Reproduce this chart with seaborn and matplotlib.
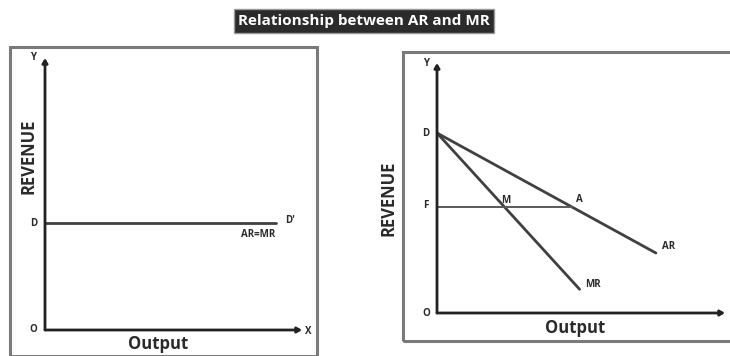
import matplotlib
matplotlib.use("Agg")
import matplotlib.pyplot as plt
from matplotlib.patches import Rectangle
import seaborn as sns
import pandas as pd

# ---- data (economic units on each diagram) ----
# Perfect competition: AR = MR is a flat line at price level D
flat_x = [0.0, 9.0]
flat_y = [3.93, 3.93]

# Imperfect competition: AR and MR fall from the same intercept D,
# MR falling twice as steeply as AR
ar_x = [0.0, 7.6]
ar_y = [7.2, 2.4]
mr_x = [0.0, 4.95]
mr_y = [7.2, 0.95]
# horizontal guide F -> A at revenue level F
f_x = [0.0, 4.7]
f_y = [4.23, 4.23]
m_point = (2.35, 4.23)
a_point = (4.7, 4.23)

title = "Relationship between AR and MR"
y_label = "REVENUE"
x_label = "Output"

sns.set_theme(style="white")
plt.rcParams["font.family"] = ["Open Sans", "DejaVu Sans"]

W, H = 730, 356
fig = plt.figure(figsize=(W / 100, H / 100), dpi=100)
fig.patch.set_facecolor("white")


def fx(px):
    return px / W


def fy(py):
    return 1 - py / H


line_col = "#404040"
axis_col = "#222222"
box_col = "#7a7a7a"

# panel frames
fig.patches.append(Rectangle((fx(10), fy(356)), fx(317) - fx(10), fy(47) - fy(356),
                             transform=fig.transFigure, fill=False,
                             edgecolor=box_col, linewidth=2.2))
fig.patches.append(Rectangle((fx(403), fy(341)), fx(740) - fx(403), fy(52) - fy(341),
                             transform=fig.transFigure, fill=False,
                             edgecolor=box_col, linewidth=2.2))

# title banner
fig.text(fx(364), fy(21), title, ha="center", va="center", color="white",
         fontsize=11, fontweight="bold",
         bbox=dict(boxstyle="square,pad=0.3", facecolor="#2b2b2b",
                   edgecolor="#9a9a9a", linewidth=1))


def make_axes(x0, y0, x1, y1):
    ax = fig.add_axes([fx(x0), fy(y0), fx(x1) - fx(x0), fy(y1) - fy(y0)])
    ax.set_xlim(0, 10)
    ax.set_ylim(0, 10)
    ax.axis("off")
    arrow = dict(arrowstyle="-|>,head_length=0.22,head_width=0.13",
                 color=axis_col, lw=2.0, shrinkA=0, shrinkB=0)
    ax.annotate("", xy=(0, 10), xytext=(0, 0), arrowprops=arrow)
    ax.annotate("", xy=(10, 0), xytext=(0, 0), arrowprops=arrow)
    return ax


small = dict(fontsize=7, fontweight="bold", color="#2a2a2a", clip_on=False)

# ---- left diagram ----
axl = make_axes(45, 330, 302, 58)
sns.lineplot(x=flat_x, y=flat_y, ax=axl, color=line_col, linewidth=2.0,
             estimator=None, sort=False)
axl.text(-0.45, 10.0, "Y", ha="center", va="center", **small)
axl.text(-0.45, 0.0, "O", ha="center", va="center", **small)
axl.text(-0.45, flat_y[0], "D", ha="center", va="center", **small)
axl.text(flat_x[1] + 0.35, flat_y[0] + 0.1, "D'", ha="left", va="center", **small)
axl.text(flat_x[1] - 0.05, flat_y[0] - 0.42, "AR=MR", ha="right", va="center", **small)
axl.text(10.25, -0.05, "X", ha="center", va="center", **small)
axl.text(-0.65, 6.4, y_label, rotation=90, ha="center", va="center",
         fontsize=12, fontweight="bold", color="#2a2a2a", clip_on=False)
axl.text(4.4, -0.5, x_label, ha="center", va="center",
         fontsize=12, fontweight="bold", color="#2a2a2a", clip_on=False)

# ---- right diagram ----
axr = make_axes(437, 313, 725, 63)
curves = pd.DataFrame({
    "output": ar_x + mr_x + f_x,
    "revenue": ar_y + mr_y + f_y,
    "curve": ["AR"] * 2 + ["MR"] * 2 + ["F"] * 2,
})
sns.lineplot(data=curves[curves.curve != "F"], x="output", y="revenue",
             units="curve", estimator=None, sort=False, ax=axr,
             color=line_col, linewidth=2.0)
sns.lineplot(data=curves[curves.curve == "F"], x="output", y="revenue",
             estimator=None, sort=False, ax=axr, color="#5a5a5a", linewidth=1.4)
axr.text(-0.38, 10.0, "Y", ha="center", va="center", **small)
axr.text(-0.38, 0.0, "O", ha="center", va="center", **small)
axr.text(-0.38, ar_y[0], "D", ha="center", va="center", **small)
axr.text(-0.38, f_y[0] + 0.05, "F", ha="center", va="center", **small)
axr.text(m_point[0] + 0.05, m_point[1] + 0.25, "M", ha="center", va="center", **small)
axr.text(a_point[0] + 0.25, a_point[1] + 0.3, "A", ha="center", va="center", **small)
axr.text(ar_x[1] + 0.2, ar_y[1] + 0.25, "AR", ha="left", va="center", **small)
axr.text(mr_x[1] + 0.2, mr_y[1] + 0.2, "MR", ha="left", va="center", **small)
axr.text(-1.7, 4.6, y_label, rotation=90, ha="center", va="center",
         fontsize=12, fontweight="bold", color="#2a2a2a", clip_on=False)
axr.text(4.8, -0.6, x_label, ha="center", va="center",
         fontsize=12, fontweight="bold", color="#2a2a2a", clip_on=False)

fig.savefig("out.png", dpi=100, facecolor="white")
